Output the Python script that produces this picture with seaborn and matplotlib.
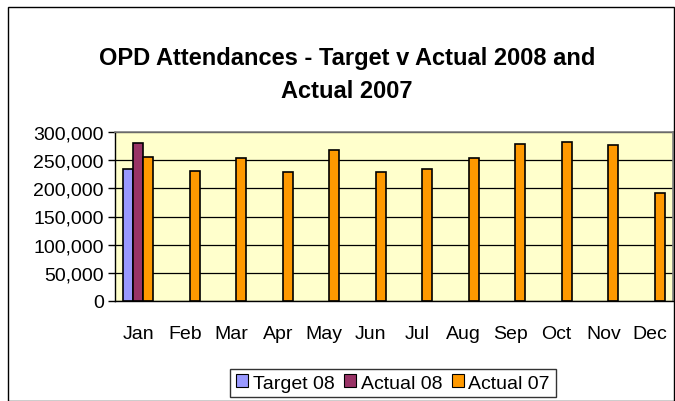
import numpy as np
import pandas as pd
import matplotlib
matplotlib.use("Agg")
import matplotlib.pyplot as plt
import seaborn as sns
from matplotlib.patches import Rectangle

months = ["Jan", "Feb", "Mar", "Apr", "May", "Jun", "Jul", "Aug", "Sep", "Oct", "Nov", "Dec"]
target_08 = [234000] + [np.nan] * 11
actual_08 = [280000] + [np.nan] * 11
actual_07 = [256000, 231000, 254000, 229000, 268000, 229000, 234000, 254000, 279000, 282000, 277000, 192000]
series = ["Target 08", "Actual 08", "Actual 07"]
colors = ["#9999FF", "#993366", "#FF9900"]
yticks = [0, 50000, 100000, 150000, 200000, 250000, 300000]

df = pd.DataFrame({
    "Month": months * 3,
    "Series": [s for s in series for _ in months],
    "Value": target_08 + actual_08 + actual_07,
})

sns.set_theme(style="white")
plt.rcParams["font.family"] = ["Liberation Sans", "DejaVu Sans"]
plt.rcParams["text.color"] = "black"
plt.rcParams["xtick.color"] = "black"
plt.rcParams["ytick.color"] = "black"
plt.rcParams["xtick.labelcolor"] = "black"
plt.rcParams["ytick.labelcolor"] = "black"

fig = plt.figure(figsize=(6.75, 4.02), dpi=100)
ax = fig.add_axes([115/675, 1-302/402, (673-115)/675, (302-133)/402])
ax.set_facecolor("#FFFFCC")

sns.barplot(data=df, x="Month", y="Value", hue="Series", hue_order=series,
            palette=colors, order=months, width=0.65, dodge=True,
            edgecolor="black", linewidth=1.2, saturation=1, ax=ax, legend=False)

ax.set_ylim(0, 300000)
ax.set_xlim(-0.5, 11.5)
ax.set_yticks(yticks)
ax.set_yticklabels([f"{v:,}" for v in yticks], fontsize=14)
ax.yaxis.grid(True, color="black", linewidth=0.9)
ax.set_axisbelow(True)
ax.set_xlabel("")
ax.set_ylabel("")
ax.set_xticks(range(12))
ax.set_xticklabels(months, fontsize=14)
ax.set_xticks(np.arange(-0.5, 12, 1), minor=True)
ax.tick_params(axis="x", which="major", length=0, pad=17)
ax.tick_params(axis="x", which="minor", length=5, width=1, color="black", direction="out")
ax.tick_params(axis="y", length=5, width=1, color="black", direction="out", left=True, pad=3)
for s in ["top", "right"]:
    ax.spines[s].set_color("#808080")
    ax.spines[s].set_linewidth(1.2)
for s in ["left", "bottom"]:
    ax.spines[s].set_color("black")
    ax.spines[s].set_linewidth(1)

fig.text(347/675, 1-58/402, "OPD Attendances - Target v Actual 2008 and",
         ha="center", va="center", fontsize=17, fontweight="bold", color="black")
fig.text(347/675, 1-91/402, "Actual 2007",
         ha="center", va="center", fontsize=17, fontweight="bold", color="black")

handles = [Rectangle((0, 0), 1, 1, facecolor=c, edgecolor="black", linewidth=0.8) for c in colors]
leg = fig.legend(handles, series, loc="center", bbox_to_anchor=(393/675, 1-384/402),
                 ncol=3, fontsize=14, frameon=True, fancybox=False, handlelength=0.6,
                 handleheight=0.6, handletextpad=0.25, columnspacing=0.5, borderpad=0.3)
leg.get_frame().set_edgecolor("black")
leg.get_frame().set_linewidth(1)

fig.patches.append(Rectangle((8/675, 0), (674-8)/675, 1-8/402, transform=fig.transFigure,
                             fill=False, edgecolor="black", linewidth=1))

fig.savefig("out.png", dpi=100)
